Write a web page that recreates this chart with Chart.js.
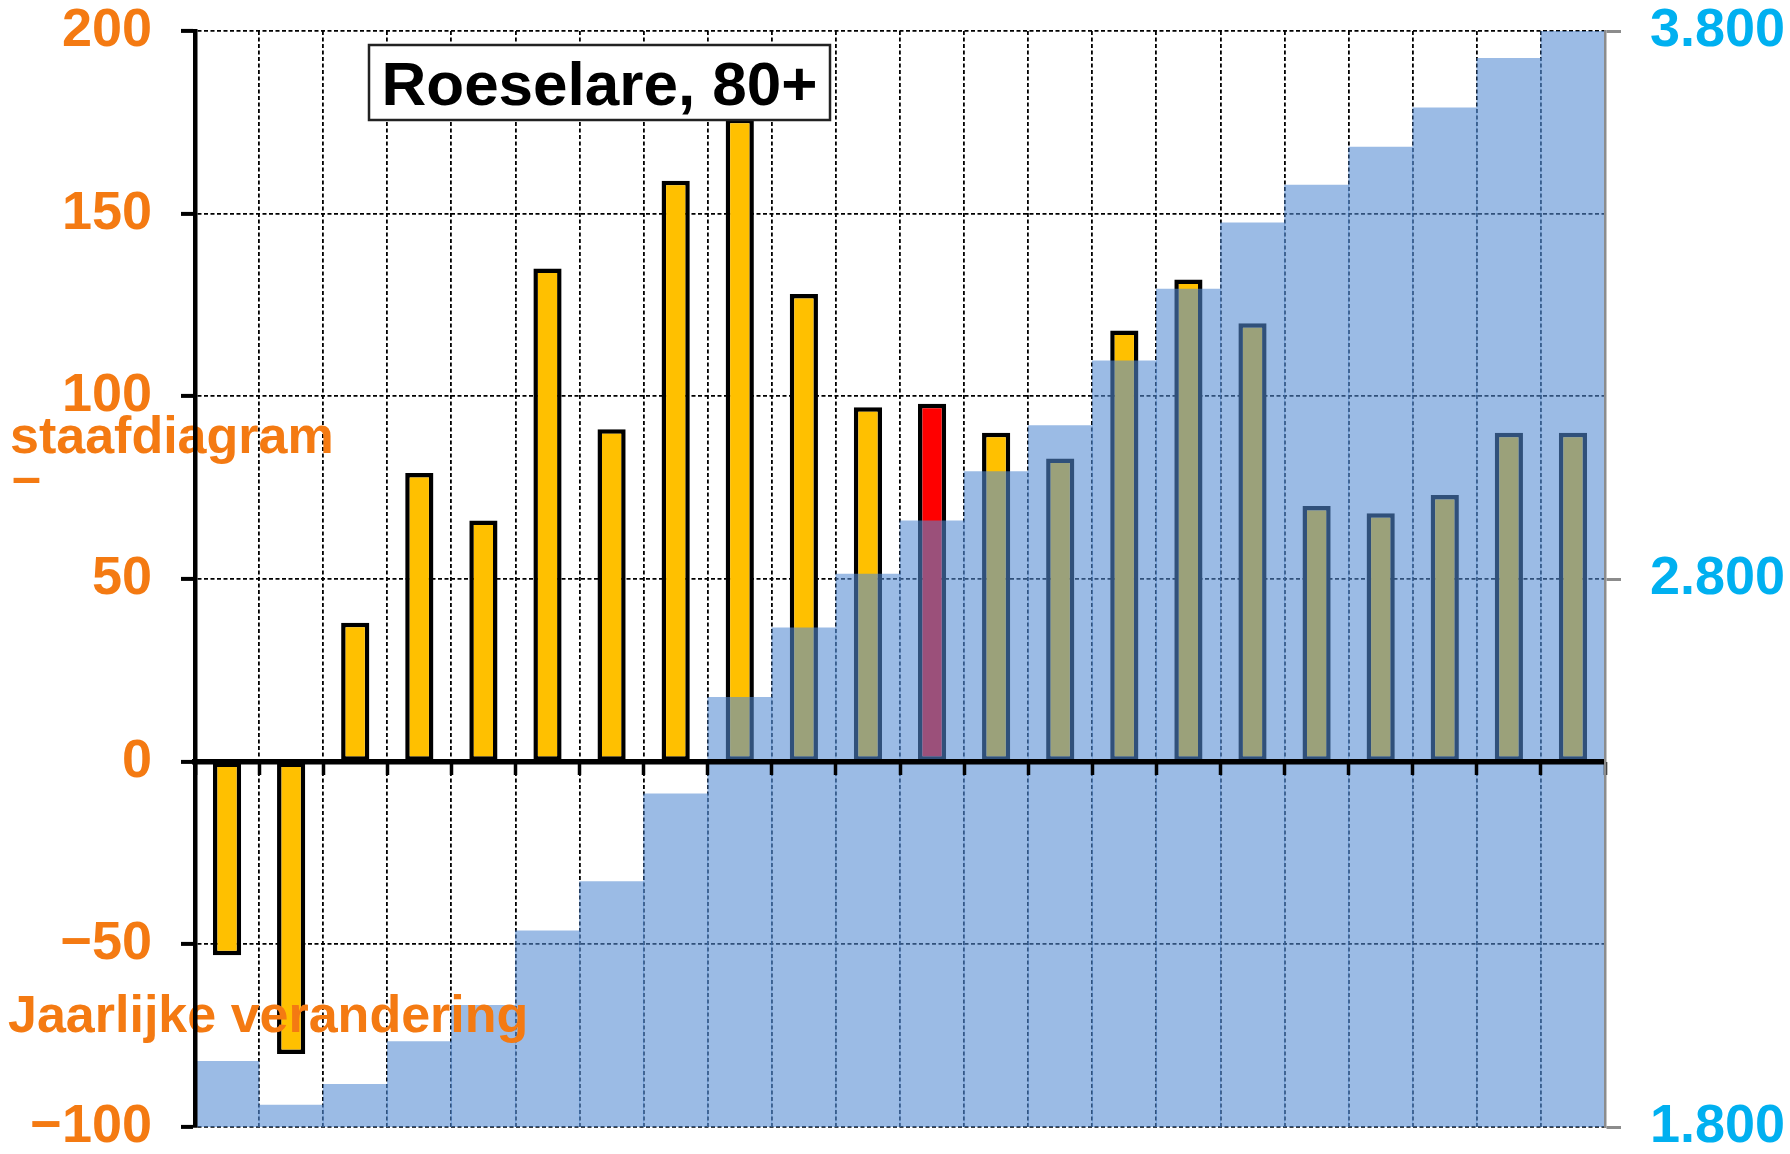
<!DOCTYPE html>
<html>
<head>
<meta charset="utf-8">
<script src="https://cdn.jsdelivr.net/npm/chart.js@4.4.1/dist/chart.umd.min.js"></script>
<style>
html,body{margin:0;padding:0;background:#fff;overflow:hidden}
#wrap{width:1790px;height:1154px}
</style>
</head>
<body>
<div id="wrap"><canvas id="c" width="1790" height="1154"></canvas></div>
<script>
// jaarlijkse gegevens, 80-plussers Roeselare
const years=['2010','2011','2012','2013','2014','2015','2016','2017','2018','2019','2020',
  '2021','2022','2023','2024','2025','2026','2027','2028','2029','2030','2031'];
const yearlyChange=[-53,-80,38,79,66,135,91,159,176,128,97,98,90,83,118,132,120,70,68,73,90,90];
const population80=[1920,1840,1878,1956,2022,2158,2248,2408,2584,2711,2809,2906,2996,3080,3198,3329,3450,3519,3588,3660,3750,3840];
const currentYear='2021';
const leftTicks=[-100,-50,0,50,100,150,200];
const rightTicks=[1800,2800,3800];
const chartTitle='Roeselare, 80+';

const orange='#F47A12';
const cyan='#00B0F0';
const fam='"Liberation Sans", Arial, sans-serif';
Chart.defaults.font.family=fam;

const tickFont={family:fam,size:54,weight:'bold',lineHeight:1};

function fmtLeft(v){ return v<0 ? '\u2212'+Math.abs(v) : String(v); }
function fmtRight(v){ return String(v).replace(/\B(?=(\d{3})+(?!\d))/g,'.'); }

const overlay={
  id:'overlay',
  afterDatasetsDraw(chart){
    const ctx=chart.ctx;
    ctx.save();
    ctx.fillStyle=orange;
    ctx.font='bold 52px '+fam;
    ctx.textAlign='left';
    ctx.textBaseline='alphabetic';
    ctx.fillText('staafdiagram',10,453);
    ctx.fillText('\u2013',12,494);
    ctx.fillText('Jaarlijke verandering',8,1032);
    ctx.restore();
  },
  afterDraw(chart){
    const ctx=chart.ctx;
    ctx.save();
    ctx.fillStyle='#fff';
    ctx.fillRect(369,45,461,75);
    ctx.lineWidth=2.5;
    ctx.strokeStyle='#222';
    ctx.strokeRect(369,45,461,75);
    ctx.fillStyle='#000';
    ctx.font='bold 62px '+fam;
    ctx.textAlign='center';
    ctx.textBaseline='alphabetic';
    ctx.fillText(chartTitle,599.5,105);
    ctx.restore();
  }
};

function fixY(width){
  return s=>{ s.width=width; s.paddingTop=0; s.paddingBottom=0; };
}

new Chart(document.getElementById('c'),{
  type:'bar',
  data:{
    labels:years,
    datasets:[
      {
        label:'Jaarlijke verandering',
        data:yearlyChange,
        xAxisID:'x',yAxisID:'y',
        backgroundColor:years.map(y=>y===currentYear?'#FF0000':'#FFC000'),
        borderColor:'#000',
        borderWidth:4.5,
        borderSkipped:false,
        barPercentage:0.44,
        categoryPercentage:1,
        grouped:false,
        order:2
      },
      {
        label:'80+',
        data:population80,
        xAxisID:'x',yAxisID:'y2',
        backgroundColor:'rgba(83,138,210,0.58)',
        borderWidth:0,
        barPercentage:1,
        categoryPercentage:1,
        grouped:false,
        clip:0,
        order:1
      }
    ]
  },
  options:{
    responsive:false,
    animation:false,
    events:[],
    layout:{padding:{top:31,bottom:27,left:0,right:0}},
    plugins:{legend:{display:false},tooltip:{enabled:false},title:{display:false}},
    scales:{
      x:{
        type:'category',
        position:{y:0},
        offset:true,
        grid:{offset:true,color:'#000',lineWidth:1.8,drawTicks:false},
        border:{display:true,color:'#000',width:5.5,dash:[4,2.5],z:1},
        ticks:{display:false}
      },
      x2:{
        type:'category',
        position:{y:0},
        offset:true,
        grid:{offset:true,drawOnChartArea:false,drawTicks:true,tickLength:13,tickWidth:3.5,tickColor:'#000',z:1},
        border:{display:false},
        ticks:{display:false}
      },
      y:{
        position:'left',
        min:-100,max:200,
        afterBuildTicks(s){ s.ticks=leftTicks.map(v=>({value:v})); },
        afterFit:fixY(195),
        grid:{color:'#000',lineWidth:1.8,tickLength:14,tickWidth:4,tickColor:'#000',tickBorderDash:[]},
        border:{color:'#000',width:4.5,dash:[4,2.5],z:1},
        ticks:{color:orange,padding:29,font:tickFont,callback:v=>fmtLeft(v)}
      },
      y2:{
        position:'right',
        min:1800,max:3800,
        afterBuildTicks(s){ s.ticks=rightTicks.map(v=>({value:v})); },
        afterFit:fixY(185),
        grid:{drawOnChartArea:false,tickLength:16,tickWidth:3,tickColor:'#8c8c8c'},
        border:{color:'#8c8c8c',width:2.5,z:1},
        ticks:{color:cyan,padding:29,font:tickFont,callback:v=>fmtRight(v)}
      }
    }
  },
  plugins:[overlay]
});
</script>
</body>
</html>
